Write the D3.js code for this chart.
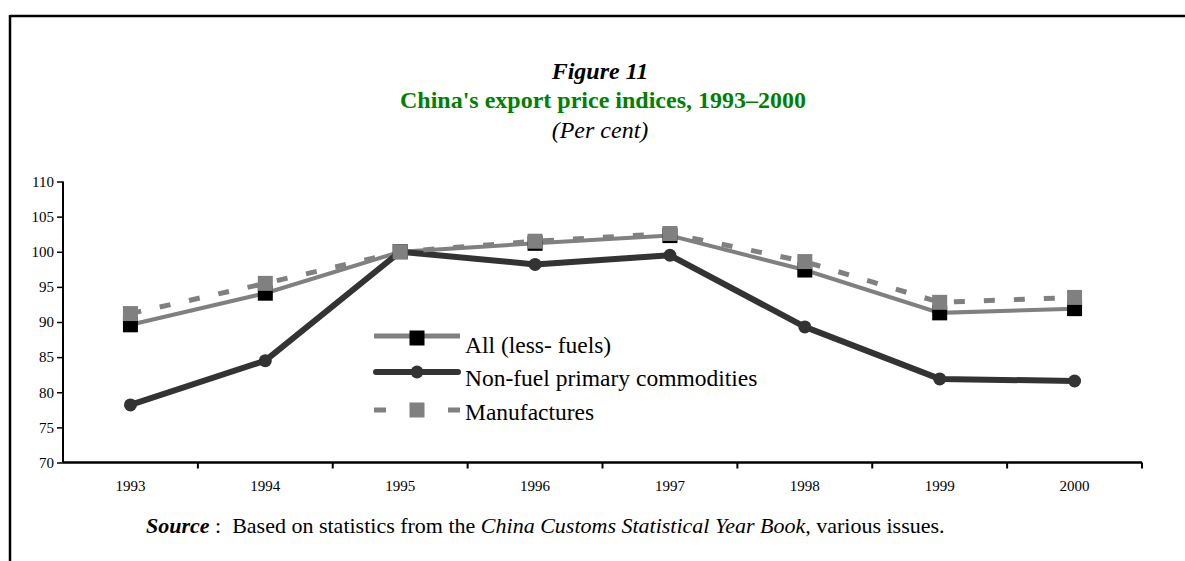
<!DOCTYPE html>
<html>
<head>
<meta charset="utf-8">
<script src="https://cdn.jsdelivr.net/npm/d3@7"></script>
<style>
  body { margin: 0; background: #fff; }
  svg { font-family: "Liberation Serif", "Times New Roman", serif; }
</style>
</head>
<body>
<div id="okvir"></div>
<script>
const godine = ["1993", "1994", "1995", "1996", "1997", "1998", "1999", "2000"]
const sveBezGoriva = [89.6, 94.1, 100, 101.2, 102.3, 97.4, 91.3, 91.9]
const primarneRobe = [78.2, 84.5, 100, 98.2, 99.5, 89.3, 81.9, 81.6]
const proizvodi = [91.2, 95.5, 100, 101.5, 102.6, 98.6, 92.8, 93.5]
const yTicks = [70, 75, 80, 85, 90, 95, 100, 105, 110]
const nazivi = ["All (less- fuels)", "Non-fuel primary commodities", "Manufactures"]

const dimenzije = {
  sirina: 1185,
  visina: 561,
  margine: { top: 181.5, right: 43, bottom: 98.5, left: 63 },
}
dimenzije.grSirina = dimenzije.sirina - dimenzije.margine.left - dimenzije.margine.right
dimenzije.grVisina = dimenzije.visina - dimenzije.margine.top - dimenzije.margine.bottom

const okvir = d3.select("#okvir").append("svg")
  .attr("width", dimenzije.sirina)
  .attr("height", dimenzije.visina)

// okvir stranice
okvir.append("line").attr("x1", 10).attr("x2", 1185).attr("y1", 16).attr("y2", 16)
  .attr("stroke", "#000").attr("stroke-width", 2.5)
okvir.append("line").attr("x1", 10).attr("x2", 10).attr("y1", 15).attr("y2", 561)
  .attr("stroke", "#000").attr("stroke-width", 2.5)

// naslovi
okvir.append("text").attr("x", 600).attr("y", 79).attr("text-anchor", "middle")
  .attr("font-size", 24).attr("font-weight", "bold").attr("font-style", "italic")
  .text("Figure 11")
okvir.append("text").attr("x", 603).attr("y", 108).attr("text-anchor", "middle")
  .attr("font-size", 24).attr("font-weight", "bold").attr("fill", "#008000")
  .text("China's export price indices, 1993–2000")
okvir.append("text").attr("x", 600).attr("y", 138).attr("text-anchor", "middle")
  .attr("font-size", 24).attr("font-style", "italic")
  .text("(Per cent)")

const granice = okvir.append("g")
  .attr("transform", `translate(${dimenzije.margine.left},${dimenzije.margine.top})`)

const xSkala = d3.scaleBand().domain(godine).range([0, dimenzije.grSirina])
const yySkala = d3.scaleLinear().domain([70, 110]).range([dimenzije.grVisina, 0])
const xPoz = g => xSkala(g) + xSkala.bandwidth() / 2

// y os
const yOs = granice.append("g")
  .call(d3.axisLeft(yySkala).tickValues(yTicks).tickSize(6).tickPadding(3))
yOs.select(".domain").attr("stroke-width", 2).attr("d", `M0,0V${dimenzije.grVisina}`)
yOs.selectAll(".tick line").attr("stroke-width", 1.5)
yOs.selectAll("text").attr("font-size", 15).attr("font-family", "Liberation Serif")

// x os
const xOs = granice.append("g")
  .attr("transform", `translate(0,${dimenzije.grVisina})`)
  .call(d3.axisBottom(xSkala).tickSize(0).tickPadding(18))
xOs.select(".domain").attr("stroke-width", 2.5).attr("d", `M0,0H${dimenzije.grSirina}`)
xOs.selectAll("text").attr("font-size", 15).attr("font-family", "Liberation Serif")
const granicePojasa = godine.slice(1).map(g => xSkala(g)).concat([dimenzije.grSirina])
xOs.selectAll(".crtica").data(granicePojasa).enter().append("line")
  .attr("class", "crtica")
  .attr("x1", d => d).attr("x2", d => d).attr("y1", 0).attr("y2", 6)
  .attr("stroke", "#000").attr("stroke-width", 2)

const linija = d3.line().x((d, i) => xPoz(godine[i])).y(d => yySkala(d))

// All (less fuels)
granice.append("path").datum(sveBezGoriva)
  .attr("d", linija).attr("fill", "none")
  .attr("stroke", "#808080").attr("stroke-width", 4)
granice.selectAll(".kvadrat-crni").data(sveBezGoriva).enter().append("rect")
  .attr("class", "kvadrat-crni")
  .attr("x", (d, i) => xPoz(godine[i]) - 7.5).attr("y", d => yySkala(d) - 7.5)
  .attr("width", 15).attr("height", 15).attr("fill", "#000")

// Non-fuel primary commodities
granice.append("path").datum(primarneRobe)
  .attr("d", linija).attr("fill", "none")
  .attr("stroke", "#333333").attr("stroke-width", 6).attr("stroke-linejoin", "round")
granice.selectAll(".kruzic").data(primarneRobe).enter().append("circle")
  .attr("class", "kruzic")
  .attr("cx", (d, i) => xPoz(godine[i])).attr("cy", d => yySkala(d))
  .attr("r", 6.5).attr("fill", "#333333")

// Manufactures
granice.append("path").datum(proizvodi)
  .attr("d", linija).attr("fill", "none")
  .attr("stroke", "#808080").attr("stroke-width", 5).attr("stroke-dasharray", "11,19")
granice.selectAll(".kvadrat-sivi").data(proizvodi).enter().append("rect")
  .attr("class", "kvadrat-sivi")
  .attr("x", (d, i) => xPoz(godine[i]) - 7.5).attr("y", d => yySkala(d) - 7.5)
  .attr("width", 15).attr("height", 15).attr("fill", "#808080")

// legenda
const legenda = okvir.append("g").attr("transform", "translate(374,0)")
const redovi = [336, 372, 410]
legenda.append("line").attr("x1", 0).attr("x2", 86).attr("y1", redovi[0]).attr("y2", redovi[0])
  .attr("stroke", "#808080").attr("stroke-width", 5)
legenda.append("rect").attr("x", 35.5).attr("y", redovi[0] - 5.5).attr("width", 15).attr("height", 15)
  .attr("fill", "#000")
legenda.append("line").attr("x1", 2).attr("x2", 84).attr("y1", redovi[1]).attr("y2", redovi[1])
  .attr("stroke", "#333333").attr("stroke-width", 6).attr("stroke-linecap", "round")
legenda.append("circle").attr("cx", 43).attr("cy", redovi[1]).attr("r", 6.5).attr("fill", "#333333")
legenda.append("line").attr("x1", 0).attr("x2", 86).attr("y1", redovi[2]).attr("y2", redovi[2])
  .attr("stroke", "#808080").attr("stroke-width", 5).attr("stroke-dasharray", "12,25,12,25")
legenda.append("rect").attr("x", 35.5).attr("y", redovi[2] - 7.5).attr("width", 15).attr("height", 15)
  .attr("fill", "#808080")
legenda.selectAll(".legend-text").data(nazivi).enter().append("text")
  .attr("class", "legend-text")
  .attr("x", 91).attr("y", (d, i) => [353, 386, 420][i])
  .attr("font-size", 23.5)
  .text(d => d)

// izvor
const izvor = okvir.append("text").attr("x", 146).attr("y", 533).attr("font-size", 22)
izvor.append("tspan").attr("font-weight", "bold").attr("font-style", "italic").text("Source")
izvor.append("tspan").attr("xml:space", "preserve").text(" :  Based on statistics from the ")
izvor.append("tspan").attr("font-style", "italic").text("China Customs Statistical Year Book,")
izvor.append("tspan").text(" various issues.")
</script>
</body>
</html>
